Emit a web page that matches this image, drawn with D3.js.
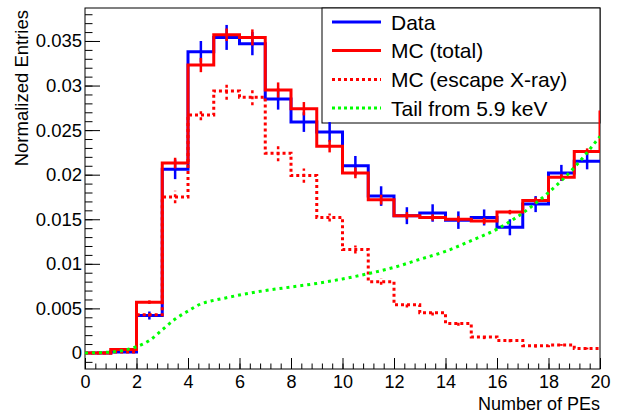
<!DOCTYPE html>
<html><head><meta charset="utf-8">
<script src="https://cdn.jsdelivr.net/npm/d3@7"></script>
<style>
body{margin:0;background:#fff}
svg text{font-family:"Liberation Sans",Arial,Helvetica,sans-serif;fill:#000}
</style>
</head><body>
<svg id="c" width="622" height="413"></svg>
<script>
const binEdges = [0,1,2,3,4,5,6,7,8,9,10,11,12,13,14,15,16,17,18,19,20];
const dataValues = [0, 0.0001, 0.0042, 0.0206, 0.0338, 0.0354, 0.0347, 0.0285, 0.0259, 0.0248, 0.0210, 0.0176, 0.0154, 0.0157, 0.0149, 0.0152, 0.0141, 0.0167, 0.0202, 0.0215];
const dataErrors = [0, 0.0001, 0.00045, 0.0011, 0.0012, 0.0014, 0.0013, 0.0012, 0.0011, 0.0011, 0.0011, 0.0011, 0.00095, 0.00098, 0.00098, 0.0009, 0.0009, 0.0009, 0.0009, 0.0009];
const mcTotal = [0, 0.0004, 0.0057, 0.0213, 0.0323, 0.0357, 0.0354, 0.0295, 0.0274, 0.0232, 0.0202, 0.0172, 0.0154, 0.0152, 0.0150, 0.0148, 0.0158, 0.0171, 0.0197, 0.0226];
const mcTotalErrors = [0, 0.0001, 0.0002, 0.0006, 0.0008, 0.0007, 0.0009, 0.00085, 0.00075, 0.0007, 0.0006, 0.00055, 0.0004, 0.00035, 0.00035, 0.00035, 0.00025, 0.00035, 0.00035, 0.00035];
const mcTotalOverflow = 0.0272;
const mcEscape = [0, 0.0001, 0.0043, 0.0175, 0.0267, 0.0294, 0.0287, 0.0224, 0.0199, 0.0152, 0.0116, 0.0080, 0.0054, 0.0045, 0.0033, 0.0018, 0.0014, 0.0008, 0.0009, 0.0005];
const mcEscapeErrors = [0, 0, 0.0002, 0.0007, 0.0006, 0.001, 0.0009, 0.0009, 0.0008, 0.00045, 0.00045, 0.00035, 0.0003, 0.0003, 0.00025, 0.00025, 0.0002, 0.0002, 0.0001, 0.0001];
const tailX = [0,1,1.5,2,2.5,3,3.5,4,4.5,5,5.5,6,7,8,9,10,11,12,13,14,15,16,17,18,19,20];
const tailY = [0,0.0001,0.0003,0.0007,0.0014,0.0026,0.0038,0.0047,0.0055,0.0059,0.0062,0.0065,0.0070,0.0074,0.0078,0.0083,0.0089,0.0096,0.0105,0.0114,0.0126,0.0139,0.0157,0.0180,0.0208,0.0243];
const xTickValues = [0,2,4,6,8,10,12,14,16,18,20];
const xTickLabels = ["0","2","4","6","8","10","12","14","16","18","20"];
const yTickValues = [0,0.005,0.01,0.015,0.02,0.025,0.03,0.035];
const yTickLabels = ["0","0.005","0.01","0.015","0.02","0.025","0.03","0.035"];
const legendLabels = ["Data","MC (total)","MC (escape X-ray)","Tail from 5.9 keV"];

const svg = d3.select('#c');
const L=85, R=600, T=8, B=369;
const x = d3.scaleLinear().domain([0,20]).range([L,R]);
const y = d3.scaleLinear().domain([-0.0018,0.0387]).range([B,T]);

svg.append('defs').append('clipPath').attr('id','clip')
  .append('rect').attr('x',L).attr('y',T).attr('width',R-L).attr('height',B-T);

// axes
const yMinor = d3.range(-1,39).map(i=>i*0.001);
const xMinor = d3.range(0,51).map(i=>i*0.4);
const gy = svg.append('g').attr('transform',`translate(${L},0)`);
gy.call(d3.axisLeft(y).tickValues(yMinor).tickSize(-7.5).tickFormat(''));
gy.append('g').call(d3.axisLeft(y).tickValues(yTickValues).tickSize(-15).tickPadding(3)
  .tickFormat((d,i)=>yTickLabels[i]));
const gx = svg.append('g').attr('transform',`translate(0,${B})`);
gx.call(d3.axisBottom(x).tickValues(xMinor).tickSize(-5.5).tickFormat(''));
gx.append('g').attr('class','xmaj').call(d3.axisBottom(x).tickValues(xTickValues).tickSize(-11).tickPadding(6)
  .tickFormat((d,i)=>xTickLabels[i]));
svg.selectAll('.domain').remove();
svg.selectAll('.tick line').attr('stroke','#000').attr('stroke-width',1);
svg.selectAll('.tick text').attr('font-size','18.5px').attr('font-family','"Liberation Sans",Arial,sans-serif').attr('fill','#000');
gx.selectAll('.xmaj .tick text').attr('font-size','18px').attr('dy',null).attr('y',18.5);

svg.append('rect').attr('x',L).attr('y',T).attr('width',R-L).attr('height',B-T)
  .attr('fill','none').attr('stroke','#000').attr('stroke-width',1);

svg.append('text').attr('x',R).attr('y',409.5).attr('text-anchor','end')
  .attr('font-size','18px').text('Number of PEs');
svg.append('text').attr('transform','translate(28,10) rotate(-90)').attr('text-anchor','end')
  .attr('font-size','18.5px').text('Normalized Entries');

// legend
const lg = svg.append('g');
lg.append('rect').attr('x',322).attr('y',T).attr('width',R-322).attr('height',115)
  .attr('fill','#fff').attr('stroke','#000').attr('stroke-width',1);
const legendStyles = [
  {c:'#0000ff',dash:null},{c:'#ff0000',dash:null},{c:'#ff0000',dash:'3,3'},{c:'#00ff00',dash:'3,3'}];
const legendY = [22,50.5,79.5,108];
legendLabels.forEach((t,i)=>{
  lg.append('line').attr('x1',332).attr('x2',381).attr('y1',legendY[i]).attr('y2',legendY[i])
    .attr('stroke',legendStyles[i].c).attr('stroke-width',3)
    .attr('stroke-dasharray',legendStyles[i].dash);
  lg.append('text').attr('x',391).attr('y',legendY[i]+7.5).attr('font-size','21px').text(t);
});

// histograms
const plot = svg.append('g').attr('clip-path','url(#clip)');
function histPath(vals, overflow){
  let d = `M${x(binEdges[0])},${y(vals[0])}`;
  vals.forEach((v,i)=>{
    d += `L${x(binEdges[i])},${y(v)}L${x(binEdges[i+1])},${y(v)}`;
  });
  if(overflow!==undefined) d += `L${x(binEdges[vals.length])},${y(overflow)}`;
  return d;
}
function drawHist(vals, errs, color, dash, overflow){
  const g = plot.append('g');
  g.append('path').attr('d',histPath(vals,overflow)).attr('fill','none')
    .attr('stroke',color).attr('stroke-width',3).attr('stroke-dasharray',dash)
    .attr('stroke-linejoin','miter');
  g.selectAll('line.err').data(vals).enter().append('line')
    .attr('x1',(d,i)=>x((binEdges[i]+binEdges[i+1])/2))
    .attr('x2',(d,i)=>x((binEdges[i]+binEdges[i+1])/2))
    .attr('y1',(d,i)=>y(d-errs[i])).attr('y2',(d,i)=>y(d+errs[i]))
    .attr('stroke',color).attr('stroke-width',2.5).attr('stroke-dasharray',dash);
}
drawHist(dataValues, dataErrors, '#0000ff', null);
drawHist(mcTotal, mcTotalErrors, '#ff0000', null, mcTotalOverflow);
drawHist(mcEscape, mcEscapeErrors, '#ff0000', '3,3');

const tailLine = d3.line().x((d,i)=>x(tailX[i])).y(d=>y(d)).curve(d3.curveMonotoneX);
plot.append('path').attr('d',tailLine(tailY)).attr('fill','none')
  .attr('stroke','#00ff00').attr('stroke-width',3).attr('stroke-dasharray','3,4');
</script>
</body></html>
